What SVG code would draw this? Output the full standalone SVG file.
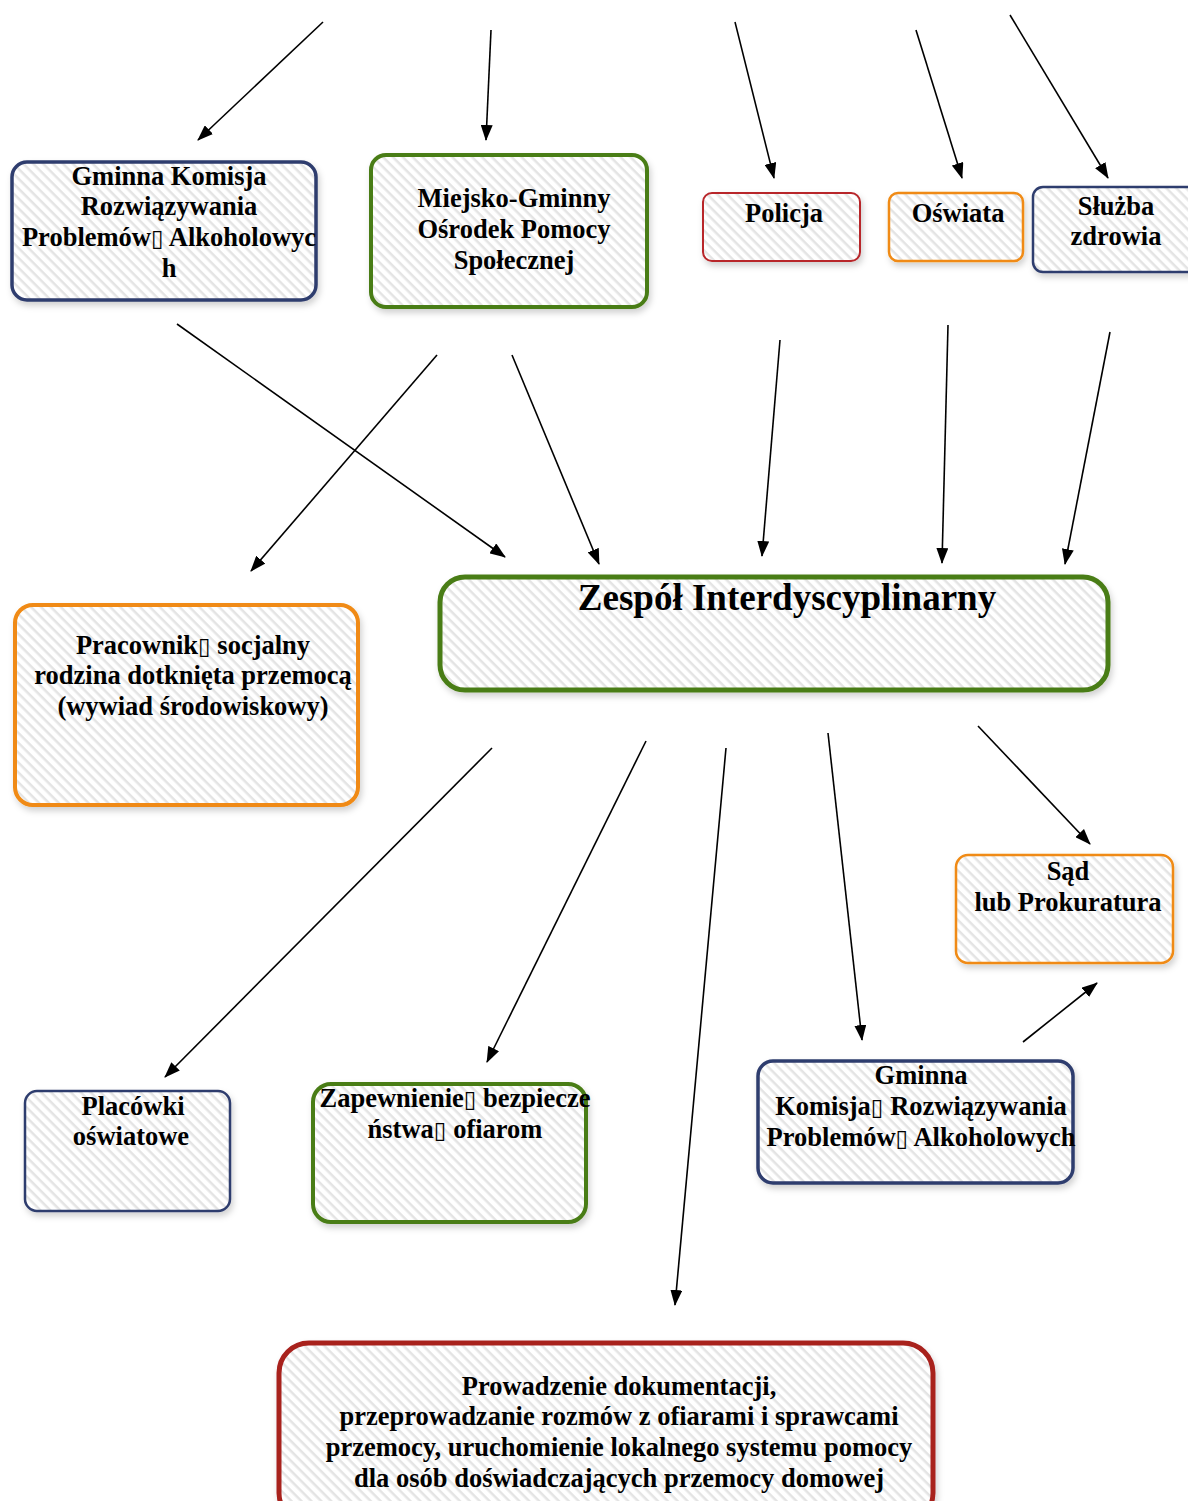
<svg xmlns="http://www.w3.org/2000/svg" width="1188" height="1501" viewBox="0 0 1188 1501">
<style>
.box{fill:url(#hatch);}
.navy{stroke:#2f3d6e;stroke-width:3.5;}
.green{stroke:#4a7d16;stroke-width:4;}
.red{stroke:#b8262a;stroke-width:2;}
.orange{stroke:#f08a12;stroke-width:2.5;}
.dred{stroke:#a8201e;stroke-width:5;}
text{font-family:"Liberation Serif","Times New Roman",serif;font-weight:bold;font-size:26.5px;fill:#000;text-anchor:middle;}
.title{font-size:37px;}
.tofu{font-family:"DejaVu Sans",sans-serif;font-weight:normal;font-size:23px;}
.conn line{stroke:#000;stroke-width:1.6;marker-end:url(#ah);}
</style>
<defs>
<pattern id="hatch" width="7" height="7" patternUnits="userSpaceOnUse" patternTransform="rotate(45)">
<rect width="7" height="7" fill="#ffffff"/>
<rect width="7" height="2.5" fill="#e4e4e4"/>
</pattern>
<marker id="ah" viewBox="0 0 16 12" refX="15" refY="6" markerWidth="16" markerHeight="12" markerUnits="userSpaceOnUse" orient="auto">
<path d="M0,0 L16,6 L0,12 Z" fill="#000"/>
</marker>
<filter id="sh" x="-10%" y="-10%" width="120%" height="130%">
<feDropShadow dx="2" dy="4" stdDeviation="3" flood-color="#000" flood-opacity="0.18"/>
</filter>
</defs>
<rect width="1188" height="1501" fill="#fff"/>

<g class="conn">
<line x1="323" y1="22" x2="198" y2="140"/>
<line x1="491" y1="30" x2="486" y2="140"/>
<line x1="735" y1="22" x2="774" y2="178"/>
<line x1="916" y1="30" x2="962" y2="178"/>
<line x1="1010" y1="15" x2="1108" y2="178"/>
<line x1="177" y1="324" x2="505" y2="557"/>
<line x1="437" y1="355" x2="251" y2="571"/>
<line x1="512" y1="355" x2="599" y2="564"/>
<line x1="780" y1="340" x2="762" y2="556"/>
<line x1="948" y1="325" x2="942" y2="563"/>
<line x1="1110" y1="332" x2="1065" y2="564"/>
<line x1="492" y1="748" x2="165" y2="1077"/>
<line x1="646" y1="741" x2="487" y2="1062"/>
<line x1="726" y1="748" x2="675" y2="1305"/>
<line x1="828" y1="733" x2="862" y2="1040"/>
<line x1="978" y1="726" x2="1090" y2="844"/>
<line x1="1023" y1="1042" x2="1097" y2="983"/>
</g>

<g id="gkrpa-top">
<rect class="box navy" x="12" y="162" width="304" height="138" rx="15" filter="url(#sh)"/>
<text x="169" y="185">Gminna Komisja</text>
<text x="169" y="215">Rozwiązywania</text>
<text x="169" y="246">Problemów<tspan class="tofu">▯</tspan> Alkoholowyc</text>
<text x="169" y="277">h</text>
</g>

<g id="mgops">
<rect class="box green" x="371" y="155" width="276" height="152" rx="15" filter="url(#sh)"/>
<text x="514" y="207">Miejsko-Gminny</text>
<text x="514" y="238">Ośrodek Pomocy</text>
<text x="514" y="269">Społecznej</text>
</g>

<g id="policja">
<rect class="box red" x="703" y="193" width="157" height="68" rx="9" filter="url(#sh)"/>
<text x="784" y="222">Policja</text>
</g>

<g id="oswiata">
<rect class="box orange" x="889" y="193" width="134" height="68" rx="9" filter="url(#sh)"/>
<text x="958" y="222">Oświata</text>
</g>

<g id="sluzba">
<rect class="box navy" x="1033" y="187" width="170" height="85" rx="10" filter="url(#sh)" style="stroke-width:2.5"/>
<text x="1116" y="215">Służba</text>
<text x="1116" y="245">zdrowia</text>
</g>

<g id="zespol">
<rect class="box green" x="440" y="577" width="668" height="113" rx="25" filter="url(#sh)" style="stroke-width:5"/>
<text class="title" x="787" y="610">Zespół Interdyscyplinarny</text>
</g>

<g id="pracownik">
<rect class="box orange" x="15" y="605" width="343" height="200" rx="18" filter="url(#sh)" style="stroke-width:4"/>
<text x="193" y="654">Pracownik<tspan class="tofu">▯</tspan> socjalny</text>
<text x="193" y="684">rodzina dotknięta przemocą</text>
<text x="193" y="715">(wywiad środowiskowy)</text>
</g>

<g id="sad">
<rect class="box orange" x="956" y="855" width="217" height="108" rx="12" filter="url(#sh)"/>
<text x="1068" y="880">Sąd</text>
<text x="1068" y="911">lub Prokuratura</text>
</g>

<g id="placowki">
<rect class="box navy" x="25" y="1091" width="205" height="120" rx="12" filter="url(#sh)" style="stroke-width:2.5"/>
<text x="133" y="1115">Placówki</text>
<text x="131" y="1145">oświatowe</text>
</g>

<g id="zapewnienie">
<rect class="box green" x="313" y="1084" width="273" height="138" rx="18" filter="url(#sh)"/>
<text x="455" y="1107">Zapewnienie<tspan class="tofu">▯</tspan> bezpiecze</text>
<text x="455" y="1138">ństwa<tspan class="tofu">▯</tspan> ofiarom</text>
</g>

<g id="gkrpa-bottom">
<rect class="box navy" x="758" y="1061" width="315" height="122" rx="15" filter="url(#sh)"/>
<text x="921" y="1084">Gminna</text>
<text x="921" y="1115">Komisja<tspan class="tofu">▯</tspan> Rozwiązywania</text>
<text x="921" y="1146">Problemów<tspan class="tofu">▯</tspan> Alkoholowych</text>
</g>

<g id="prowadzenie">
<rect class="box dred" x="279" y="1343" width="654" height="180" rx="30" filter="url(#sh)"/>
<text x="619" y="1395">Prowadzenie dokumentacji,</text>
<text x="619" y="1425">przeprowadzanie rozmów z ofiarami i sprawcami</text>
<text x="619" y="1456">przemocy, uruchomienie lokalnego systemu pomocy</text>
<text x="619" y="1487">dla osób doświadczających przemocy domowej</text>
</g>
</svg>
